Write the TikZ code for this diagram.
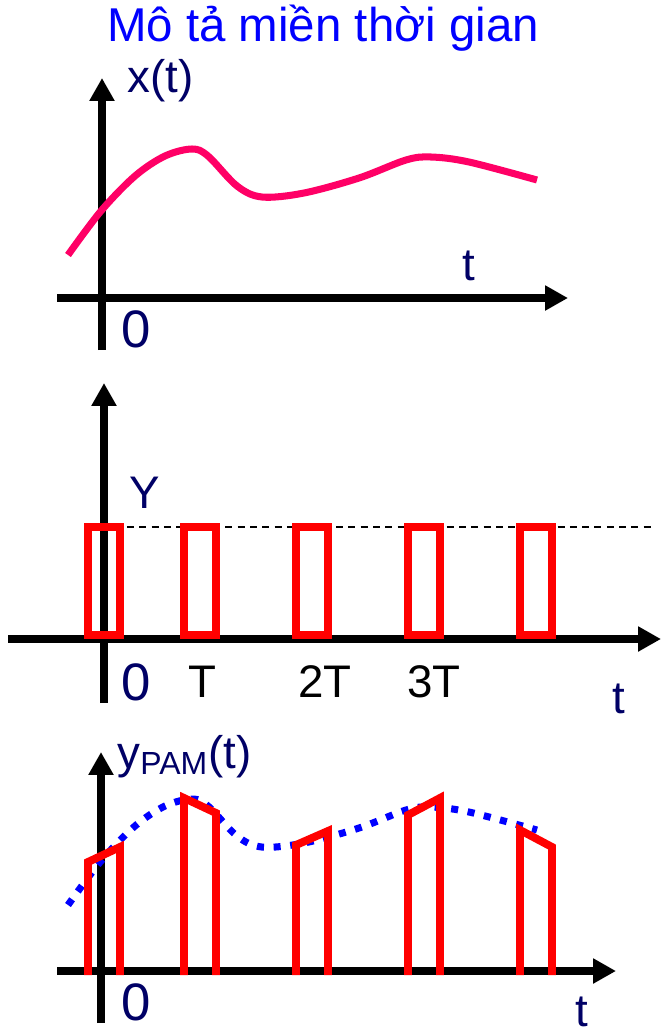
\documentclass[tikz,border=0pt]{standalone}
\usepackage{fontspec}
\setmainfont{Liberation Sans}
\usetikzlibrary{arrows.meta}
\definecolor{cnavy}{HTML}{000066}
\definecolor{cblue}{HTML}{0000FF}
\definecolor{cpink}{HTML}{FF0066}
\definecolor{cred}{HTML}{FF0000}
\tikzset{
  every picture/.style={line width=4pt},
  axis/.style={-{Triangle[length=13pt, width=13.5pt]}, draw=black, line width=4pt},
  signal/.style={draw=cpink, line width=4pt},
  dotsig/.style={draw=cblue, line width=4pt, dash pattern=on 4pt off 5.5pt},
  pulse/.style={draw=cred, line width=4.5pt},
  dashline/.style={draw=black, line width=0.6pt, dash pattern=on 4pt off 3pt},
  title/.style={font=\fontsize{27}{32}\selectfont, text=cblue, inner sep=0pt},
  lbl/.style={font=\fontsize{26}{30}\selectfont, text=cnavy, inner sep=0pt},
  orig/.style={font=\fontsize{30}{34}\selectfont, text=cnavy, inner sep=0pt, anchor=base west},
  ticklbl/.style={font=\fontsize{26}{30}\selectfont, inner sep=0pt, anchor=base},
}
% the analog signal, drawn once on top and once (shifted) under the samples
\newcommand{\xsignal}{plot[smooth, tension=0.55] coordinates {(68,255) (101,211) (135,176) (165,156) (192,149) (208,156) (237,186) (262,197) (304,193) (359,178) (406,160) (431,157) (469,162) (537,180)}}

\begin{document}
\begin{tikzpicture}[x=0.2mm, y=-0.2mm]
  \useasboundingbox (0,0) rectangle (662,1036);
  \node[title] (heading) at (323,28) {Mô tả miền thời gian};

  % x(t)
  \draw[axis] (102,350) -- (102,78);
  \draw[axis] (57,298) -- (568,298);
  \draw[signal] \xsignal;
  \node[lbl, anchor=base west] (xlab) at (124,92) {x(t)};
  \node[lbl, anchor=base] (t1) at (469,280) {t};
  \node[orig] (o1) at (118,347) {0};

  % sampling pulses
  \draw[axis] (104,703) -- (104,383);
  \draw[axis] (8,639) -- (661,639);
  \draw[dashline] (127,527) -- (651,527);
  \foreach \c in {104,200,312,424,536}
    \draw[pulse] (\c-16,527) rectangle (\c+16,635);
  \node[lbl, anchor=base west] (ylab) at (126,508) {Y};
  \node[orig] (o2) at (118,700) {0};
  \node[ticklbl] (k1) at (202,697) {T};
  \node[ticklbl] (k2) at (325,697) {2T};
  \node[ticklbl] (k3) at (434,697) {3T};
  \node[lbl, anchor=base] (t2) at (619,713) {t};

  % y_PAM(t)
  \draw[axis] (101,1023) -- (101,752);
  \draw[axis] (57,971) -- (616,971);
  \begin{scope}[yshift=-13cm]
    \draw[dotsig] \xsignal;
  \end{scope}
  \foreach \c/\l/\r in {104/862/847, 200/798/813, 312/845/831, 424/815/798, 536/830/847}
    \draw[pulse] (\c-16,975) -- (\c-16,\l) -- (\c+16,\r) -- (\c+16,975);
  \node[lbl, anchor=base west] (plab) at (114,768) {y\textsubscript{PAM}(t)};
  \node[orig] (o3) at (118,1020) {0};
  \node[lbl, anchor=base] (t3) at (582,1026) {t};
\end{tikzpicture}
\end{document}
